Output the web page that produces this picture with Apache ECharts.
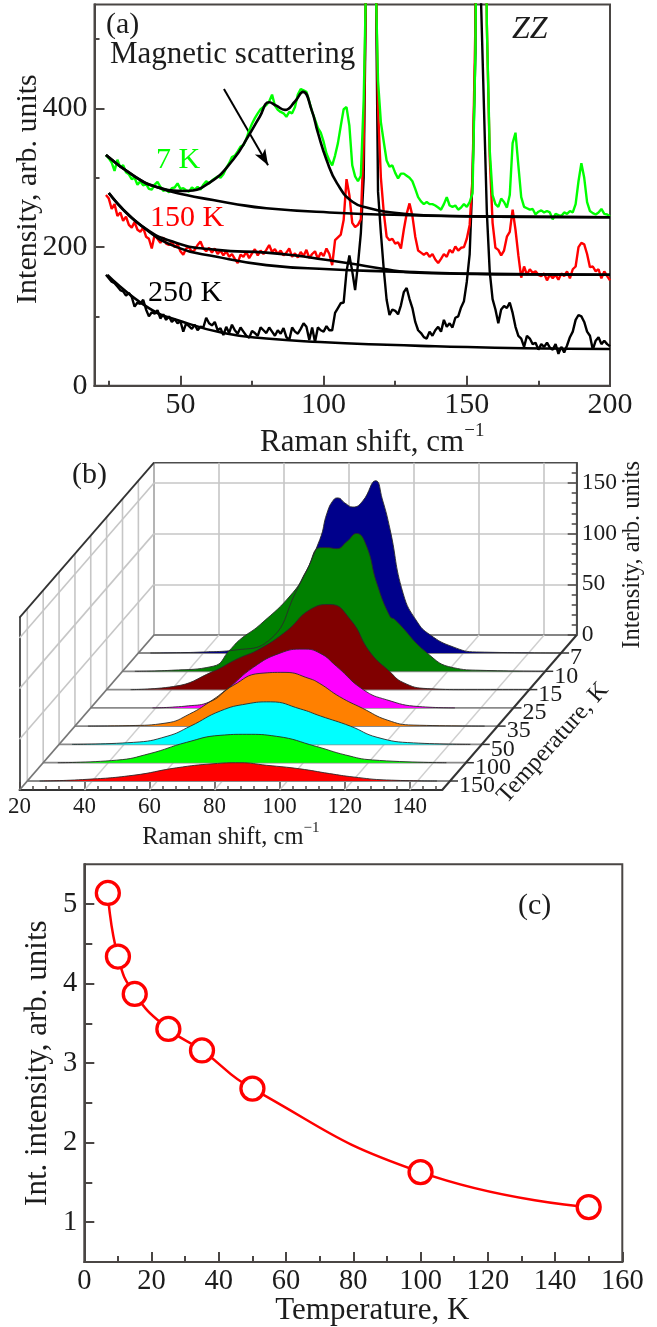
<!DOCTYPE html>
<html><head><meta charset="utf-8">
<style>html,body{margin:0;padding:0;background:#fff}#c{width:657px;height:1327px}</style>
<script src="https://cdn.jsdelivr.net/npm/echarts@6/dist/echarts.min.js"></script>
</head><body><div id="c"></div>
<script>
// ---------- Panel (a) data ----------
const ramanStart = 24; // first wavenumber of the traces; traces are sampled every 1 cm-1
const trace7K = [333,328,322,310,326,315,318,308,305,298,300,290,295,289,291,284,283,290,294,287,281,283,279,285,286,292,284,285,282,280,286,283,287,283,290,295,292,296,299,302,300,305,314,321,330,332,338,345,347,356,368,378,386,393,399,402,405,410,420,404,398,395,393,388,395,393,402,420,428,426,424,410,395,384,372,365,352,335,325,318,332,350,375,399,402,375,318,302,295,303,413,620,1400,1500,620,440,380,352,325,316,318,307,299,306,306,303,300,295,284,272,266,262,265,262,262,260,257,254,262,272,260,258,260,254,257,262,258,265,278,480,1000,1500,900,520,340,275,262,258,270,265,257,275,350,365,318,272,258,256,254,255,247,251,253,250,252,250,240,248,246,245,250,248,252,250,262,295,321,300,265,252,249,247,250,255,248,247,244];
const trace150K = [275,270,255,262,245,250,238,244,232,228,236,225,222,228,215,212,198,218,212,206,214,205,203,208,200,204,194,189,198,200,193,196,203,208,198,194,199,192,198,190,195,188,194,186,190,183,177,189,186,193,184,191,197,188,195,190,196,203,193,197,190,195,188,192,198,186,191,185,193,187,196,184,190,194,183,192,187,198,190,174,210,214,218,239,298,275,235,229,232,240,350,650,1600,1600,660,400,300,250,215,210,212,205,207,198,225,248,263,245,215,195,192,189,192,186,190,182,177,183,190,186,196,192,201,195,199,200,212,232,300,520,1200,1500,1000,520,330,235,199,196,188,195,215,222,254,225,188,156,172,160,168,163,165,160,158,162,152,160,155,160,153,162,158,165,155,168,172,200,206,204,190,171,172,165,168,155,165,158,152];
const trace250K = [160,155,150,148,143,138,136,130,134,128,114,120,118,124,110,100,106,104,109,97,103,95,100,92,96,90,93,78,90,86,82,88,80,85,84,98,90,87,92,80,83,73,85,76,88,80,75,84,78,72,69,79,76,72,84,80,76,84,78,72,80,75,83,70,66,84,78,75,82,90,85,66,84,63,84,80,78,86,80,80,105,112,119,120,165,188,165,138,175,220,300,650,1600,1700,700,280,220,168,124,102,110,108,103,116,135,141,125,112,92,80,76,70,68,78,72,80,85,78,95,85,90,84,98,100,113,122,150,190,300,480,1500,550,400,250,165,125,110,90,110,115,112,120,105,85,72,68,56,72,68,60,62,52,60,56,62,55,52,60,46,56,48,58,70,78,95,102,100,92,78,72,52,65,70,60,65,60,57];
const fit7MagX = [24,34,41.4,52,60.2,68.4,74,77.7,81,83.5,86.5,90,92.8,95.8,98,101,104.7,110.2,116,121.9,135,160,200];
const fit7MagY = [333,302,287,281,293,326,362,388,409,404,398,410,424,398,365,326,292,265,256,251,246,244,243];
const fit7BaseX = [24,34,41.4,52,61.4,68,80,102,130,160,200];
const fit7BaseY = [333,302,287,275,268,263,256,250,246,244,243];
const fit150MagX = [25,36,48.7,62.7,80,90,100,110,120,133,160,200];
const fit150MagY = [278,232,206,196,192,188,182,176,169,163,161,160];
const fit150BaseX = [25,36,48.7,62.7,80,102,122,160,200];
const fit150BaseY = [278,232,200,186,174,168,165,161,160];
const fit250X = [24.5,39,51,65,80,98.7,122,139,170,200];
const fit250Y = [160,112,92,76,68,63,59,57,54,53];
const ramanLabelTicks = [50,100,150,200];
const ramanMinorTicks = [25,75,125,175];
const arrowFrom = [65.2,428];
const arrowTo = [80.6,318];

// ---------- Panel (b) data ----------
const temperatures = ['7','10','15','25','35','50','100','150'];
const colors3d = ['#00008b','#008000','#800000','#ff00ff','#ff8000','#00ffff','#00ff00','#ff0000'];
const shift7K  = [23.7,30,40,50,60,68.7,75.8,78,80,81.4,83.5,86,89,93,95,97.4,101.4,105.7,109.7,116.8,124,150];
const int7K    = [0,0.2,1,3,12,62,112,138,151,153,148,144,150,170,152,122,59,31,18,6,1,0];
const shift10K = [23.8,35,47.9,53,56,62.3,72.5,76.7,80.8,83,85.9,89,92,95,98.2,102.3,103.8,113.7,121.7,130,149.5];
const int10K   = [0,1,5,21,31,46,78,100,122,122,121,128,136,124,87,54,51,18,3.6,1,0];
const shift15K = [27.4,40.5,52.8,60,67,75.4,82.6,88.7,95,101,107,111.2,118.6,130,152];
const int15K   = [0,3,18,30,40,58,79,84,69,37,18,7,1,0,0];
const shift25K = [39,50,56.6,61.8,70,78.2,85.3,90.5,95.6,103.8,111,121,132];
const int25K   = [0,2,6,18,40,54,58,54,41,18,8,1.3,0];
const shift35K = [24,36.9,48,55.3,62.4,68.6,76.9,84.6,92,95.3,101.4,108.5,116,124,146];
const int35K   = [0,0.5,3,12,26,40,52,53,47,42,29,17.5,6,1,0];
const shift50K = [24,42.9,53.2,60.4,69.6,77.8,85,94.2,100.4,109.6,117.8,129,146.5];
const int50K   = [0,2,8,18,33,40,42,35,28,18,7,1.5,0];
const shift100K= [24.5,42.6,52.8,64,74.4,82.6,91.8,104,113,121.3,144];
const int100K  = [0,2.5,9,20,27,28,26,16,7.6,2.7,0];
const shift150K= [23.8,37,52.5,65.9,77.1,85.4,93.6,103.8,113,120.2,130.5,146];
const int150K  = [0,1.4,5.6,13,17,18,15.5,12,7.3,4,1,0];
const shifts3d = [shift7K,shift10K,shift15K,shift25K,shift35K,shift50K,shift100K,shift150K];
const ints3d   = [int7K,int10K,int15K,int25K,int35K,int50K,int100K,int150K];
const frontLabels = [20,40,60,80,100,120,140];
const frontMinor = [24,28,32,36,44,48,52,56,64,68,72,76,84,88,92,96,104,108,112,116,124,128,132,136,144,148];
const backLabels = [0,50,100,150];
const backMinor = [10,20,30,40,60,70,80,90,110,120,130,140,160];

// ---------- Panel (c) data ----------
const tempC = [7,10,15,25,35,50,100,150];
const intC  = [5.14,4.34,3.87,3.43,3.16,2.68,1.63,1.19];
const cLabels = [1,2,3,4,5];
const cMinor = [1.5,2.5,3.5,4.5];

// ---------- Helpers and layout ----------
const serif = 'Liberation Serif';
const ink = '#1c1c1c', axisCol = '#4a4644';
const zip = (xs,ys) => xs.map((x,i)=>[x,ys[i]]);
const trace = ys => ys.map((y,i)=>[ramanStart+i,y]);
const grids=[], xAxes=[], yAxes=[], series=[];
const addGrid=o=>grids.push(Object.assign({outerBoundsMode:'none'},o));
function baseAxis(o){return Object.assign({type:'value',nameMoveOverlap:false,splitLine:{show:false},axisLine:{show:true,onZero:false,lineStyle:{color:axisCol,width:2}},
  axisTick:{show:false},axisLabel:{show:false}},o);}
const tick=(len,vals,w=2)=>({show:true,inside:true,length:len,customValues:vals,lineStyle:{color:axisCol,width:w}});
const lab=(size,vals,margin)=>({show:true,customValues:vals,color:ink,fontFamily:serif,fontSize:size,margin});

// Panel (a)
addGrid({left:94.5,top:4.5,width:515.5,height:381.2,show:true,borderColor:axisCol,borderWidth:2,backgroundColor:'transparent'});
xAxes.push(baseAxis({gridIndex:0,position:'bottom',min:20,max:200,axisTick:tick(10,ramanLabelTicks),axisLabel:lab(30,ramanLabelTicks,4),
  name:'{a|Raman shift, cm}{b|\u22121}',nameLocation:'middle',nameGap:36,nameTextStyle:{rich:{a:{fontFamily:serif,fontSize:31,color:ink},b:{fontFamily:serif,fontSize:19,color:ink,padding:[0,0,24,0]}},padding:[0,0,0,40]}}));
xAxes.push(baseAxis({gridIndex:0,position:'bottom',min:20,max:200,axisTick:tick(5,ramanMinorTicks)}));
yAxes.push(baseAxis({gridIndex:0,position:'left',min:0,max:550,axisTick:tick(10,[0,200,400]),axisLabel:lab(30,[0,200,400],7),
  name:'Intensity, arb. units',nameLocation:'middle',nameGap:51,nameTextStyle:{fontFamily:serif,fontSize:30,color:ink,padding:[0,0,0,12]}}));
yAxes.push(baseAxis({gridIndex:0,position:'left',min:0,max:550,axisTick:tick(5,[100,300,500])}));
const aLine=(name,data,color,width,smooth,extra)=>series.push(Object.assign({type:'line',name,xAxisIndex:0,yAxisIndex:0,data,showSymbol:false,symbol:'none',smooth,
  clip:true,lineStyle:{color,width},z:5,silent:true},extra||{}));
aLine('250 K',trace(trace250K),'#000',2.4,false);
aLine('150 K',trace(trace150K),'#ff0000',2.4,false);
aLine('7 K',trace(trace7K),'#00ff00',2.4,false);
aLine('7 K fit magnetic',zip(fit7MagX,fit7MagY),'#000',2.6,0.5,{markLine:{silent:true,symbol:['none','arrow'],symbolSize:[9,16],animation:false,label:{show:false},
  lineStyle:{color:'#000',width:2,type:'solid'},data:[[{coord:arrowFrom},{coord:arrowTo}]]}});
aLine('7 K fit base',zip(fit7BaseX,fit7BaseY),'#000',2.6,0.5);
aLine('150 K fit magnetic',zip(fit150MagX,fit150MagY),'#000',2.6,0.5);
aLine('150 K fit base',zip(fit150BaseX,fit150BaseY),'#000',2.6,0.5);
aLine('250 K fit',zip(fit250X,fit250Y),'#000',2.6,0.5);

// Panel (b): back plane carries the scale; every temperature slice is a grid shifted along the depth direction
const backLeft=154, backTop=462.7, planeW=422.7, backBottom=635, zPx=172.3/170, depthTotal=155, kDepth=134.5/155;
const depths=[18,36.3,54.6,72.9,91.1,109.4,127.7,146];
const gBack=grids.length;
addGrid({left:backLeft,top:backTop,width:planeW,height:backBottom-backTop,show:true,borderColor:'#4d4d4d',borderWidth:1.6});
const gridLine={show:true,lineStyle:{color:'#c6c6c6',width:1.6}};
xAxes.push(baseAxis({gridIndex:gBack,min:20,max:150,interval:20,axisLine:{show:true,onZero:false,lineStyle:{color:'#777',width:1.5}},splitLine:gridLine}));
const backX=xAxes.length-1;
yAxes.push(baseAxis({gridIndex:gBack,position:'right',min:0,max:170,axisLine:{show:true,onZero:false,lineStyle:{color:'#333',width:1.6}},
  splitLine:Object.assign({},gridLine,{customValues:backLabels}),axisTick:tick(9,backLabels,1.5),axisLabel:lab(23.5,backLabels,5),
  name:'Intensity, arb. units',nameLocation:'middle',nameGap:43,nameTextStyle:{fontFamily:serif,fontSize:24.5,color:ink,padding:[0,12,0,0]}}));
const backY=yAxes.length-1;
// minor ticks of the back scale
const gBack2=grids.length;
addGrid({left:backLeft,top:backTop,width:planeW,height:backBottom-backTop});
xAxes.push(baseAxis({gridIndex:gBack2,min:20,max:150,show:false}));
yAxes.push(baseAxis({gridIndex:gBack2,position:'right',min:0,max:170,axisTick:tick(5,backMinor,1.5),axisLine:{show:false}}));
// front plane with the Raman-shift axis
const frontBottom=backBottom+depthTotal, frontLeft=backLeft-kDepth*depthTotal;
const gFront=grids.length;
addGrid({left:frontLeft,top:frontBottom-(backBottom-backTop),width:planeW,height:backBottom-backTop});
xAxes.push(baseAxis({gridIndex:gFront,position:'bottom',min:20,max:150,axisLine:{show:true,onZero:false,lineStyle:{color:'#333',width:2}},axisTick:tick(8,frontLabels,1.5),axisLabel:lab(23,frontLabels,5),
  name:'{a|Raman shift, cm}{b|\u22121}',nameLocation:'middle',nameGap:31,nameTextStyle:{rich:{a:{fontFamily:serif,fontSize:24.5,color:ink},b:{fontFamily:serif,fontSize:15,color:ink,padding:[0,0,18,0]}}}}));
yAxes.push(baseAxis({gridIndex:gFront,position:'left',min:0,max:170,axisLine:{show:true,onZero:false,lineStyle:{color:'#555',width:2}}}));
const gFront2=grids.length;
addGrid({left:frontLeft,top:frontBottom-(backBottom-backTop),width:planeW,height:backBottom-backTop});
xAxes.push(baseAxis({gridIndex:gFront2,position:'bottom',min:20,max:150,axisTick:tick(4,frontMinor,1.5),axisLine:{show:false}}));
yAxes.push(baseAxis({gridIndex:gFront2,min:0,max:170,show:false}));

// wireframe drawn through the back-plane scale plus a depth offset
series.push({type:'custom',name:'frame',xAxisIndex:backX,yAxisIndex:backY,data:[[20,0]],silent:true,z:1,renderItem(p,api){
  const P=(x,z,d)=>{const c=api.coord([x,z]);return [c[0]-kDepth*d,c[1]+d];};
  const L=(a,b,stroke,lineWidth)=>({type:'line',shape:{x1:a[0],y1:a[1],x2:b[0],y2:b[1]},style:{stroke,lineWidth}});
  const kids=[];
  depths.forEach(d=>kids.push(L(P(20,0,d),P(20,170,d),'#c6c6c6',1.6)));
  [50,100,150].forEach(z=>kids.push(L(P(20,z,0),P(20,z,depthTotal),'#c6c6c6',1.6)));
  [40,60,80,100,120,140].forEach(x=>kids.push(L(P(x,0,0),P(x,0,depthTotal),'#cfcfcf',1.4)));
  depths.forEach((d,i)=>{
    const a=P(20,0,d), b=P(150,0,d);
    kids.push(L(a,b,'#8a8a8a',1.8));
    kids.push(L(b,[b[0]+8,b[1]],'#333',1.5));
    kids.push({type:'text',x:b[0]+9,y:b[1]+5,style:{text:temperatures[i],fill:ink,font:'24px "'+serif+'"',textAlign:'left',textVerticalAlign:'middle'}});
  });
  kids.push(L(P(20,170,0),P(20,170,depthTotal),'#333',1.8));
  kids.push(L(P(20,0,0),P(20,0,depthTotal),'#777',1.8));
  kids.push(L(P(150,0,0),P(150,0,depthTotal),'#333',2));
  kids.push({type:'text',x:553,y:743,rotation:48*Math.PI/180,style:{text:'Temperature, K',fill:ink,font:'24.5px "'+serif+'"',textAlign:'center',textVerticalAlign:'middle'}});
  return {type:'group',children:kids};
}});
// slices, back to front
depths.forEach((d,i)=>{
  const gi=grids.length, h=zPx*200, base=backBottom+d;
  addGrid({left:backLeft-kDepth*d,top:base-h,width:planeW,height:h});
  xAxes.push({type:'value',gridIndex:gi,min:20,max:150,show:false});
  yAxes.push({type:'value',gridIndex:gi,min:0,max:200,show:false});
  series.push({type:'line',name:temperatures[i]+' K',xAxisIndex:xAxes.length-1,yAxisIndex:yAxes.length-1,data:zip(shifts3d[i],ints3d[i]),
    smooth:0.5,showSymbol:false,symbol:'none',silent:true,z:3,clip:false,lineStyle:{color:'#2a2a2a',width:0.9},
    areaStyle:{color:colors3d[i],opacity:1,origin:'start'}});
});

// Panel (c)
const gc=grids.length;
addGrid({left:84.3,top:864.3,width:538,height:397.7,show:true,borderColor:axisCol,borderWidth:2});
xAxes.push(baseAxis({gridIndex:gc,position:'bottom',min:0,max:160,interval:20,axisTick:{show:true,inside:true,length:10,lineStyle:{color:axisCol,width:2}},
  minorTick:{show:true,splitNumber:2,length:6,lineStyle:{color:axisCol,width:2}},axisLabel:{show:true,color:ink,fontFamily:serif,fontSize:28.5,margin:5},
  name:'Temperature, K',nameLocation:'middle',nameGap:33,nameTextStyle:{fontFamily:serif,fontSize:31,color:ink,padding:[0,0,0,38]}}));
const cx=xAxes.length-1;
yAxes.push(baseAxis({gridIndex:gc,position:'left',min:0.5,max:5.5,axisTick:tick(10,cLabels),axisLabel:lab(28.5,cLabels,7),
  name:'Int. intensity, arb. units',nameLocation:'middle',nameGap:31,nameTextStyle:{fontFamily:serif,fontSize:31,color:ink,padding:[0,0,0,0]}}));
const cy=yAxes.length-1;
yAxes.push(baseAxis({gridIndex:gc,position:'left',min:0.5,max:5.5,axisTick:tick(8,cMinor)}));
series.push({type:'line',name:'Int. intensity',xAxisIndex:cx,yAxisIndex:cy,data:zip(tempC,intC),smooth:0.5,symbol:'circle',symbolSize:23,showSymbol:true,silent:true,z:5,
  lineStyle:{color:'#ff0000',width:2.5},itemStyle:{color:'#fff',borderColor:'#ff0000',borderWidth:3.3}});

// Annotations
const note=(text,x,y,size,fill,extra)=>({type:'text',x,y,z:20,silent:true,style:Object.assign({text,fill:fill||ink,font:size+'px "'+serif+'"',textAlign:'left',textVerticalAlign:'middle'},extra||{})});
const annotations=[
  note('(a)',106,25,30),
  note('Magnetic scattering',110,55,31),
  note('ZZ',512,30,32,ink,{font:'italic 32px "'+serif+'"'}),
  note('7 K',156,160,30,'#00ff00'),
  note('150 K',150,218,30,'#ff0000'),
  note('250 K',148,293,30,'#000'),
  note('(b)',72,475,30),
  note('(c)',518,906,30)
];
const chart=echarts.init(document.getElementById('c'),null,{renderer:'canvas'});
chart.setOption({animation:false,backgroundColor:'#fff',grid:grids,xAxis:xAxes,yAxis:yAxes,series,graphic:{elements:annotations}});
</script></body></html>
